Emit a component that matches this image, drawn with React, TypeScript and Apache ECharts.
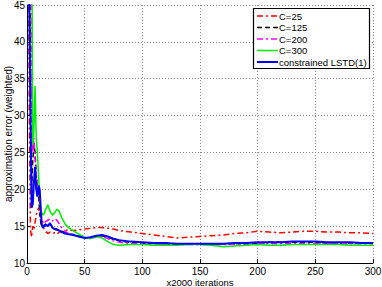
import React, { useEffect, useRef } from "react";
import * as echarts from "echarts";

const xs = [1,2,3,4,5,6,7,8,9,10,11,12,13,14,15,16,18,20,22,24,26,28,30,33,36,40,45,50,55,60,65,70,75,80,90,100,110,120,130,140,150,160,170,180,190,200,210,220,230,240,250,260,270,280,290,300];

const c25 = [60,30,14.5,13.5,15,14.5,15.5,16.5,17,17.5,16.5,15.5,15,14.8,14.6,14.3,14.0,14.2,14.0,14.1,13.9,14.2,14.3,14.4,14.5,14.4,14.5,14.6,14.7,14.8,14.8,14.7,14.6,14.4,14.2,14.0,13.8,13.6,13.4,13.5,13.6,13.7,13.8,14.0,14.1,14.3,14.2,14.1,14.2,14.3,14.3,14.2,14.2,14.1,14.1,14.0];
const c125 = [60,60,40,20,24,26,25,22,20,19,17,15.5,15,15.2,15.1,15.3,15.0,15.3,14.9,14.7,14.6,14.4,14.3,14.1,14.0,13.8,13.6,13.4,13.4,13.6,13.7,13.5,13.2,13.0,12.8,12.7,12.6,12.6,12.6,12.6,12.6,12.6,12.6,12.6,12.6,12.7,12.8,12.8,12.8,12.8,12.8,12.7,12.7,12.7,12.7,12.7];
const c200 = [60,60,60,30,25,27,24,22,21,20,18,16.5,15.8,15.5,15.3,15.6,15.8,16.0,15.7,16.0,15.8,15.3,14.8,14.3,14.0,13.9,13.6,13.4,13.4,13.5,13.6,13.3,13.0,12.8,12.6,12.6,12.5,12.5,12.5,12.5,12.5,12.5,12.5,12.5,12.5,12.6,12.6,12.6,12.6,12.6,12.6,12.6,12.6,12.6,12.6,12.6];
const c300 = [60,60,60,60,26,28,34,27,25,22,19,17,16.8,16.5,16.7,17.2,17.9,17.0,16.5,16.8,17.3,17.0,16.2,15.3,14.8,14.4,13.9,13.5,13.3,13.6,13.4,12.9,12.5,12.4,12.5,12.5,12.4,12.4,12.4,12.5,12.5,12.4,12.2,12.3,12.4,12.5,12.4,12.4,12.5,12.5,12.5,12.5,12.5,12.4,12.4,12.4];
const lstd = [60,45,30,17.5,18,21,23,20,19,20.5,20,17,15,14.8,15,15.2,15.0,15.4,14.8,14.6,14.5,14.4,14.2,14.0,13.9,13.8,13.6,13.4,13.5,13.7,13.8,13.6,13.3,13.1,12.9,12.8,12.7,12.7,12.6,12.6,12.6,12.6,12.6,12.7,12.7,12.8,12.8,12.8,12.9,12.9,12.9,12.8,12.8,12.8,12.7,12.7];

const names = ["C=25", "C=125", "C=200", "C=300", "constrained LSTD(1)"];
const colors = ["#ff0000", "#000000", "#ff00ff", "#00ee00", "#0000ff"];
const dashes: any[] = [[6, 3, 2, 3], [5, 3], [6, 3, 2, 3], null, null];
const widths = [1.5, 1.5, 1.5, 1.5, 2];
const seriesData = [c25, c125, c200, c300, lstd];

const toPts = (ys: number[]) => xs.map((x, i) => [x, ys[i]]);

export default function App() {
  const ref = useRef<HTMLDivElement>(null);
  useEffect(() => {
    const chart = echarts.init(ref.current!, null, { renderer: "svg" });
    const font = "Liberation Sans, Arial, sans-serif";
    const legendEls: any[] = [
      {
        type: "rect",
        shape: { x: 253.5, y: 8.5, width: 116, height: 60 },
        style: { fill: "#fff", stroke: "#000", lineWidth: 1.2 },
        z: 100,
      },
    ];
    names.forEach((n, i) => {
      const cy = 16 + i * 11.5;
      legendEls.push({
        type: "line",
        shape: { x1: 257, y1: cy, x2: 278, y2: cy },
        style: { stroke: colors[i], lineWidth: widths[i], lineDash: dashes[i] || undefined },
        z: 101,
      });
      legendEls.push({
        type: "text",
        x: 279,
        y: cy,
        style: { text: n, fill: "#000", font: `9.5px ${font}`, verticalAlign: "middle" },
        z: 101,
      });
    });
    chart.setOption({
      animation: false,
      textStyle: { fontFamily: font },
      grid: { left: 27, right: 9, top: 5, bottom: 24, containLabel: false, outerBoundsMode: "none" },
      graphic: legendEls,
      xAxis: {
        type: "value",
        min: 0,
        max: 300,
        interval: 50,
        name: "x2000 iterations",
        nameLocation: "middle",
        nameGap: 14,
        nameMoveOverlap: false,
        nameTextStyle: { fontSize: 9.5, color: "#000" },
        axisLine: { lineStyle: { color: "#000", width: 1 } },
        axisTick: { inside: true, length: 4, lineStyle: { color: "#000" } },
        axisLabel: { fontSize: 10, color: "#000", margin: 3 },
        splitLine: { show: true, lineStyle: { color: "#888", type: [1, 2], width: 1 } },
      },
      yAxis: {
        type: "value",
        min: 10,
        max: 45,
        interval: 5,
        name: "approximation error (weighted)",
        nameLocation: "middle",
        nameGap: 14,
        nameMoveOverlap: false,
        nameTextStyle: { fontSize: 10, color: "#000" },
        axisLine: { show: true, lineStyle: { color: "#000", width: 1 } },
        axisTick: { show: true, inside: true, length: 4, lineStyle: { color: "#000" } },
        axisLabel: { fontSize: 10, color: "#000", margin: 2 },
        splitLine: { show: true, lineStyle: { color: "#888", type: [1, 2], width: 1 } },
      },
      series: names.map((name, i) => ({
        name,
        type: "line",
        data: toPts(seriesData[i]),
        symbol: "none",
        clip: true,
        lineStyle: { color: colors[i], type: dashes[i] || "solid", width: widths[i] },
        itemStyle: { color: colors[i] },
      })),
    });
    return () => chart.dispose();
  }, []);
  return <div ref={ref} style={{ width: 382, height: 287, position: "absolute", left: 0, top: 0 }} />;
}
